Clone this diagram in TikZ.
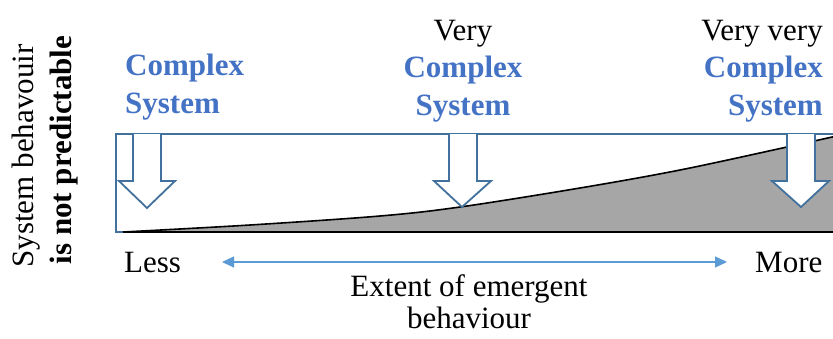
\documentclass[tikz,border=0pt]{standalone}
\usepackage{fontspec}
\setmainfont{Liberation Serif}
\usetikzlibrary{arrows.meta}
\definecolor{cxblue}{HTML}{4472C4}
\definecolor{frameblue}{HTML}{41719C}
\definecolor{axisblue}{HTML}{5B9BD5}
\definecolor{areagray}{HTML}{A6A6A6}
\tikzset{
  lbl/.style={inner sep=0pt, font=\fontsize{31}{38}\selectfont},
  cx/.style={lbl, text=cxblue, font=\fontsize{31}{38}\selectfont\bfseries},
  blockarrow/.style={draw=frameblue, fill=white, line width=1.8pt, line join=miter},
}
\begin{document}
\begin{tikzpicture}[x=1pt,y=-1pt]
\useasboundingbox (0,0) rectangle (833,338);
\begin{scope}
\clip (0,0) rectangle (833,338);
% frame
\draw[frameblue, line width=1.8pt] (116,134) rectangle (850,232);
% area under the emergence curve
\fill[areagray] plot[smooth, tension=0.55] coordinates {(123,232) (250,225) (380,216) (460,207) (580,188) (680,170) (787,147) (850,133)} -- (850,232) -- cycle;
\draw[black, line width=1.6pt] plot[smooth, tension=0.55] coordinates {(123,232) (250,225) (380,216) (460,207) (580,188) (680,170) (787,147) (850,133)};
\draw[black, line width=2.6pt] (123,232) -- (850,232);
% block arrows
\draw[blockarrow] (133,134) -- (133,181) -- (119,181) -- (147,208) -- (175,181) -- (161,181) -- (161,134);
\draw[blockarrow] (449,134) -- (449,181) -- (434,181) -- (462,207) -- (491,181) -- (477,181) -- (477,134);
\draw[blockarrow] (787,134) -- (787,181) -- (772,181) -- (801,207) -- (829,181) -- (815,181) -- (815,134);
\end{scope}
% labels above the arrows
\node[cx, anchor=base west] (c1) at (125,75) {Complex};
\node[cx, anchor=base west] (s1) at (125,113) {System};
\node[lbl, anchor=base] (v2) at (463,40) {Very};
\node[cx, anchor=base] (c2) at (463,77) {Complex};
\node[cx, anchor=base] (s2) at (463,115) {System};
\node[lbl, anchor=base east] (v3) at (823,40) {Very very};
\node[cx, anchor=base east] (c3) at (823,77) {Complex};
\node[cx, anchor=base east] (s3) at (823,115) {System};
% vertical axis title
\node[lbl, rotate=90, anchor=base] (ya) at (34,156) {System behavouir};
\node[lbl, rotate=90, anchor=base, font=\fontsize{31}{38}\selectfont\bfseries] (yb) at (71,150) {is not predictable};
% horizontal axis
\node[lbl, anchor=base west] (less) at (124,272) {Less};
\node[lbl, anchor=base west] (more) at (755,272) {More};
\node[lbl, anchor=base] (xa) at (469,296) {Extent of emergent};
\node[lbl, anchor=base] (xb) at (469,328) {behaviour};
\coordinate (al) at (222,262);
\coordinate (ar) at (727,262);
\draw[axisblue, line width=1.3pt, {Triangle[length=12pt,width=11pt]}-{Triangle[length=12pt,width=11pt]}] (al) -- (ar);
\end{tikzpicture}
\end{document}
